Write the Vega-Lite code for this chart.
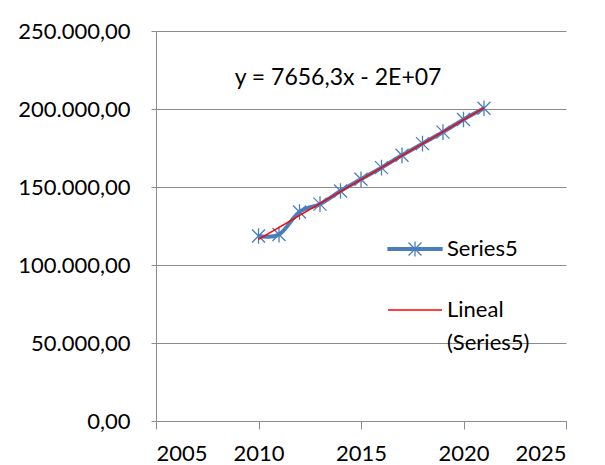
{
  "$schema": "https://vega.github.io/schema/vega-lite/v6.json",
  "width": 410,
  "height": 390,
  "autosize": "none",
  "padding": {"left": 156, "top": 31, "right": 39, "bottom": 44},
  "background": "white",
  "config": {
    "locale": {"number": {"decimal": ",", "thousands": ".", "grouping": [3], "currency": ["", ""]}},
    "view": {"stroke": null},
    "font": "Lato",
    "axis": {
      "labelFont": "Lato",
      "labelFontSize": 22,
      "labelColor": "#000000",
      "domainColor": "#8C8C8C",
      "tickColor": "#8C8C8C",
      "gridColor": "#8C8C8C",
      "domainWidth": 1,
      "tickWidth": 1,
      "gridWidth": 1,
      "title": null
    }
  },
  "data": {
    "values": [
      {"year": 2010, "value": 118600},
      {"year": 2011, "value": 119500},
      {"year": 2012, "value": 134000},
      {"year": 2013, "value": 139000},
      {"year": 2014, "value": 147400},
      {"year": 2015, "value": 155000},
      {"year": 2016, "value": 162400},
      {"year": 2017, "value": 170300},
      {"year": 2018, "value": 177800},
      {"year": 2019, "value": 185200},
      {"year": 2020, "value": 193300},
      {"year": 2021, "value": 200500}
    ]
  },
  "encoding": {
    "x": {
      "field": "year",
      "type": "quantitative",
      "scale": {"domain": [2005, 2025], "nice": false, "zero": false},
      "axis": {"values": [2005, 2010, 2015, 2020, 2025], "format": "d", "grid": false, "tickSize": 8, "labelPadding": 14}
    },
    "y": {
      "field": "value",
      "type": "quantitative",
      "scale": {"domain": [0, 250000], "nice": false},
      "axis": {"values": [0, 50000, 100000, 150000, 200000, 250000], "format": ",.2f", "grid": true, "tickSize": 5, "labelPadding": 21}
    }
  },
  "layer": [
    {
      "mark": {"type": "line", "interpolate": "cardinal", "strokeWidth": 4},
      "encoding": {
        "color": {
          "datum": "Series5",
          "type": "nominal",
          "scale": {"domain": ["Series5", "Lineal (Series5)"], "range": ["#4A7EBB", "#FF0000"]},
          "legend": {
            "orient": "none",
            "legendX": 248,
            "legendY": 207,
            "title": null,
            "padding": 0,
            "symbolSize": 2916,
            "labelOffset": 21,
            "rowPadding": 39,
            "labelFont": "Lato",
            "labelFontSize": 22,
            "labelColor": "#000000",
            "labelLimit": 300,
            "labelExpr": "datum.label == 'Lineal (Series5)' ? ['Lineal', '(Series5)'] : datum.label",
            "encode": {
              "labels": {"update": {"lineHeight": {"value": 33}}},
              "symbols": {
                "update": {
                  "shape": {"signal": "datum.value == 'Series5' ? 'M-1,-0.05H1V0.05H-1Z M-0.24,-0.24L0.24,0.24M-0.24,0.24L0.24,-0.24M0,-0.28V0.28' : 'M-1,0H1'"},
                  "fill": {"signal": "datum.value == 'Series5' ? '#4A7EBB' : 'transparent'"},
                  "stroke": {"signal": "datum.value == 'Series5' ? '#4A7EBB' : '#FF0000'"},
                  "strokeWidth": {"signal": "datum.value == 'Series5' ? 1.3 : 1.5"}
                }
              }
            }
          }
        }
      }
    },
    {
      "mark": {"type": "point", "shape": "M-1,-1L1,1M-1,1L1,-1M0,-1.2V1.2", "filled": false, "size": 169, "strokeWidth": 1.3, "color": "#4A7EBB", "opacity": 1}
    },
    {
      "transform": [{"regression": "value", "on": "year"}],
      "mark": {"type": "line", "strokeWidth": 1.5},
      "encoding": {
        "color": {"datum": "Lineal (Series5)", "type": "nominal"}
      }
    },
    {
      "transform": [{"filter": "datum.year == 2021"}],
      "mark": {"type": "text", "font": "Lato", "fontSize": 23, "color": "#000000", "align": "center", "baseline": "middle"},
      "encoding": {
        "x": {"datum": 2013.88},
        "y": {"datum": 220000},
        "text": {"value": "y = 7656,3x - 2E+07"}
      }
    }
  ]
}
